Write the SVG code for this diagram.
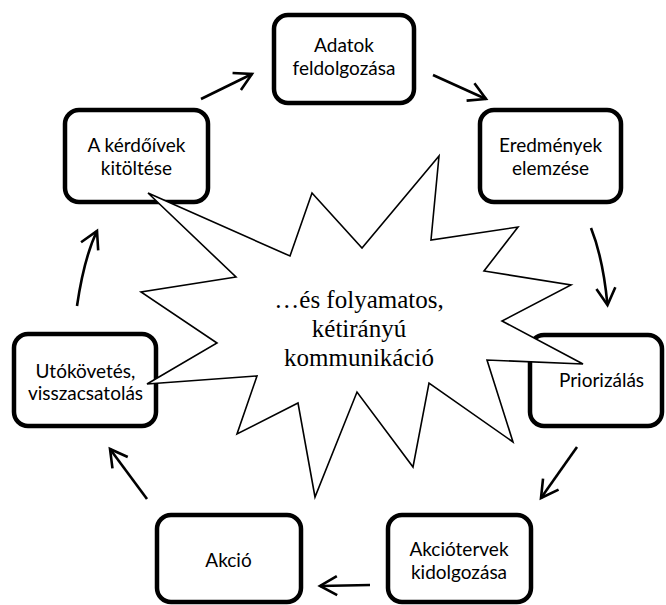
<svg xmlns="http://www.w3.org/2000/svg" width="666" height="605" viewBox="0 0 666 605">
<style>
.box{fill:#fff;stroke:#000;stroke-width:4.5}
.lbl{font-family:Lato,"Liberation Sans",sans-serif;font-size:19px;fill:#000;text-anchor:middle}
.star{fill:#fff;stroke:#000;stroke-width:1.6;stroke-linejoin:miter}
.st{font-family:"Liberation Serif","Times New Roman",serif;font-size:25px;fill:#000;text-anchor:middle}
.con{fill:none;stroke:#000;stroke-width:2.6;marker-end:url(#ah)}
</style>
<defs>
<marker id="ah" viewBox="-20 -12 24 24" refX="0" refY="0" markerWidth="24" markerHeight="24" markerUnits="userSpaceOnUse" orient="auto" overflow="visible">
<path d="M-17,-9.5 L0,0 L-17,9.5" fill="none" stroke="#000" stroke-width="2.6" stroke-linejoin="miter"/>
</marker>
</defs>
<rect width="666" height="605" fill="#fff"/>
<g id="node-adatok">
<rect class="box" x="274" y="15" width="140" height="88" rx="14"/>
<text class="lbl" x="344" y="52">Adatok</text>
<text class="lbl" x="344" y="75">feldolgozása</text>
</g>
<g id="node-kerdoivek">
<rect class="box" x="65" y="110" width="143" height="92" rx="14"/>
<text class="lbl" x="136.5" y="152">A kérdőívek</text>
<text class="lbl" x="136.5" y="175">kitöltése</text>
</g>
<g id="node-eredmenyek">
<rect class="box" x="480" y="110" width="141" height="92" rx="14"/>
<text class="lbl" x="550.5" y="152">Eredmények</text>
<text class="lbl" x="550.5" y="175">elemzése</text>
</g>
<g id="node-priorizalas">
<rect class="box" x="530" y="335" width="132" height="91" rx="14"/>
<text class="lbl" x="601.5" y="387">Priorizálás</text>
</g>
<g id="node-akcioterv">
<rect class="box" x="388" y="515" width="143" height="87" rx="14"/>
<text class="lbl" x="459" y="556">Akciótervek</text>
<text class="lbl" x="459" y="579">kidolgozása</text>
</g>
<g id="node-akcio">
<rect class="box" x="157" y="515" width="144" height="87" rx="14"/>
<text class="lbl" x="228.5" y="567">Akció</text>
</g>
<g id="node-utokovetes">
<rect class="box" x="14" y="334" width="142" height="92" rx="14"/>
<text class="lbl" x="85.5" y="378">Utókövetés,</text>
<text class="lbl" x="85.5" y="400">visszacsatolás</text>
</g>
<g id="node-kommunikacio">
<polygon class="star" points="148,193 290,256 312,193 362,248 439,156 431,240 518,227 484,271 571,285 502,321 583,364 487,360 513,442 429,383 413,467 357,392 315,497 298,403 237,434 257,376 147,384 217,343 141,292 236,277"/>
<text class="st" x="359" y="308">…és folyamatos,</text>
<text class="st" x="359" y="337">kétirányú</text>
<text class="st" x="359" y="366">kommunikáció</text>
</g>
<g id="connectors">
<path class="con" d="M201,99 L252,74"/>
<path class="con" d="M433,75 L486,99"/>
<path class="con" d="M591,228 Q603,258 607.5,305"/>
<path class="con" d="M577,447 L541,498"/>
<path class="con" d="M370,585 L320,586"/>
<path class="con" d="M147,499 L110,449"/>
<path class="con" d="M77,306 Q84,258 97,231"/>
</g>
</svg>
